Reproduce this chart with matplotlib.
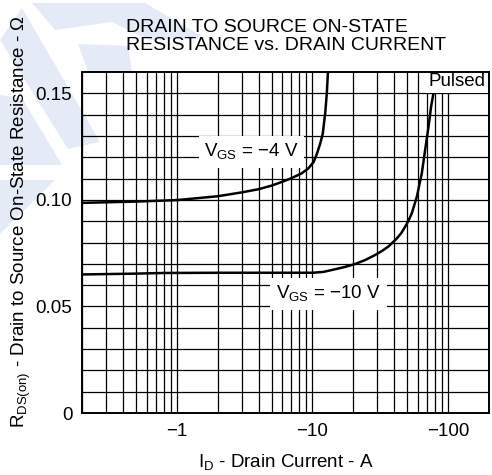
import matplotlib
matplotlib.use("Agg")
import numpy as np
import matplotlib.pyplot as plt
from matplotlib.patches import Polygon
from matplotlib.ticker import FixedLocator, LogLocator, NullFormatter

plt.rcParams['font.family'] = ['Liberation Sans', 'DejaVu Sans']

# drain current magnitude in A (the chart shows them as negative values)
id_4v = [0.2, 0.5, 1.0, 2.0, 3.0, 4.0, 5.0, 6.0, 7.0, 8.3, 9.3, 10.2, 10.8, 11.4, 11.9,
         12.4, 12.75, 13.0]
rds_4v = [0.0986, 0.0992, 0.0999, 0.1017, 0.1035, 0.1050, 0.1067, 0.1085, 0.1102, 0.1124,
          0.1147, 0.1178, 0.1218, 0.1264, 0.1310, 0.1405, 0.1500, 0.1600]

id_10v = [0.2, 0.5, 0.8, 2.0, 5.0, 10.0, 12.0, 14.6, 17.5, 20.6, 24.5, 28.9, 33.0, 36.4,
          39.0, 41.7, 45.0, 48.1, 51.0, 53.9, 58.7, 63.9, 67.6, 71.6, 74.8, 77.9, 80.5]
rds_10v = [0.0650, 0.0654, 0.0657, 0.0658, 0.0658, 0.0658, 0.0662, 0.0674, 0.0686, 0.0699,
           0.0718, 0.0741, 0.0763, 0.0782, 0.0800, 0.0818, 0.0843, 0.0873, 0.0903, 0.0936,
           0.1014, 0.1124, 0.1233, 0.1342, 0.1436, 0.1500, 0.1600]

x_ticks = [1, 10, 100]
x_tick_labels = ['\u22121', '\u221210', '\u2212100']
y_ticks = [0, 0.05, 0.10, 0.15]
y_tick_labels = ['0', '0.05', '0.10', '0.15']

W, H = 492, 475
fig = plt.figure(figsize=(W / 100, H / 100), dpi=100)

# faint blue watermark in the top-left corner (pixel coords, origin top-left)
wm = [
    [(0, 40), (22, 8), (100, 142), (68, 149)],
    [(32, 3), (145, 3), (205, 38), (150, 40), (112, 22), (55, 30)],
    [(78, 44), (128, 46), (132, 72), (88, 72)],
    [(0, 95), (22, 98), (62, 165), (0, 165)],
    [(0, 180), (55, 180), (0, 234)],
]
for pts in wm:
    fig.add_artist(Polygon([(x / W, 1 - y / H) for x, y in pts], closed=True,
                           transform=fig.transFigure, fc='#e4eaf6', ec='none', zorder=-5))

ax = fig.add_axes([82 / W, 1 - 413 / H, 407 / W, 341 / H])
ax.patch.set_alpha(0)

ax.plot(id_4v, rds_4v, color='black', lw=1.8, zorder=2)
ax.plot(id_10v, rds_10v, color='black', lw=1.8, zorder=2)

ax.set_xscale('log')
ax.set_xlim(0.2, 200)
ax.set_ylim(0, 0.16)

ax.xaxis.set_major_locator(FixedLocator(x_ticks))
ax.set_xticklabels(x_tick_labels)
ax.xaxis.set_minor_locator(LogLocator(base=10, subs=np.arange(2, 10)))
ax.xaxis.set_minor_formatter(NullFormatter())
ax.set_yticks(y_ticks)
ax.set_yticklabels(y_tick_labels)
ax.yaxis.set_minor_locator(FixedLocator(np.arange(0.01, 0.16, 0.01)))

ax.grid(which='both', color='black', lw=0.9)
ax.tick_params(which='both', length=0, labelsize=13.5)
ax.tick_params(axis='x', pad=7)
ax.tick_params(axis='y', pad=7)
for s in ax.spines.values():
    s.set_linewidth(1.4)

box = dict(boxstyle='square,pad=0.3', fc='white', ec='none')
ax.text(3.55, 0.1225, 'V$_{\\mathregular{GS}}$ = \u22124 V', fontsize=13.5,
        ha='center', va='center', bbox=box, zorder=2.2)
ax.text(13.1, 0.0558, 'V$_{\\mathregular{GS}}$ = \u221210 V', fontsize=13.5,
        ha='center', va='center', bbox=box, zorder=2.2)
ax.text(0.921, 0.972, 'Pulsed', transform=ax.transAxes, fontsize=13.5,
        ha='center', va='center', bbox=dict(boxstyle='square,pad=0.15', fc='white', ec='none'),
        zorder=2.2)

fig.text(126 / W, 1 - 32 / H, 'DRAIN TO SOURCE ON-STATE', fontsize=14, ha='left', va='baseline')
fig.text(126 / W, 1 - 50 / H, 'RESISTANCE vs. DRAIN CURRENT', fontsize=14, ha='left', va='baseline')

fig.text(286 / W, 1 - 468 / H, 'I$_{\\mathregular{D}}$ - Drain Current - A', fontsize=13.5,
         ha='center', va='baseline')
fig.text(21 / W, 1 - 222 / H, 'R$_{\\mathregular{DS(on)}}$ - Drain to Source On-State Resistance - \u03a9',
         fontsize=13.5, rotation=90, ha='center', va='center')

fig.savefig('out.png', dpi=100)
